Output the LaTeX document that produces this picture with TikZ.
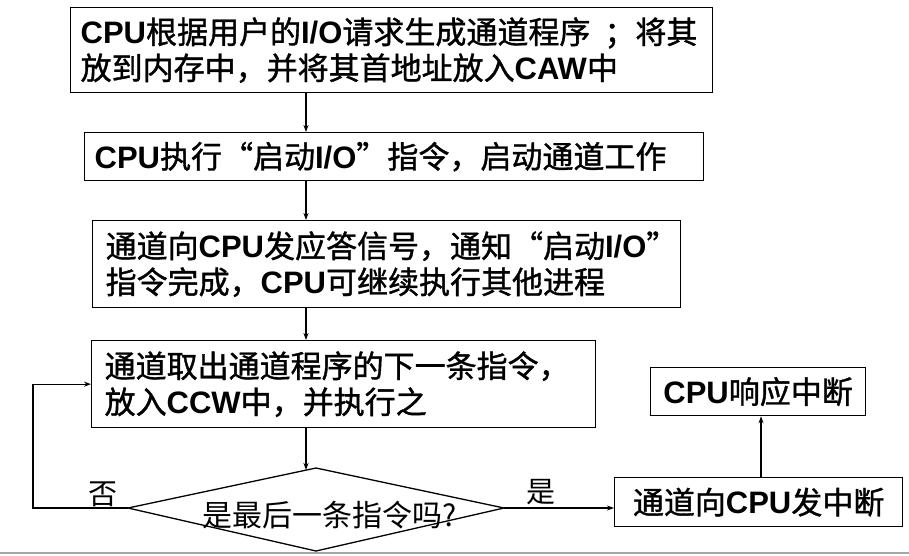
\documentclass[tikz,border=0pt]{standalone}
\usepackage{fontspec}
\setmainfont{Noto Sans CJK SC}[FakeBold=1.2]
\newfontfamily\zhlight{Noto Sans CJK SC}
\newfontfamily\enfont{Liberation Sans}
\usetikzlibrary{arrows.meta}
\newcommand\en[1]{{\enfont\bfseries #1}}
\tikzset{
  box/.style={draw, line width=1.3pt, anchor=north west, align=left, inner ysep=0pt,
    font=\fontsize{31}{36}\selectfont},
  cbox/.style={draw, line width=1.3pt, anchor=north west, align=center, inner ysep=0pt,
    font=\fontsize{31}{36}\selectfont},
  arr/.style={line width=1.1pt, -{Stealth[length=7pt,width=5pt]}},
  lbl/.style={font=\zhlight\fontsize{29}{34}\selectfont, inner sep=0pt}
}
\begin{document}
\begin{tikzpicture}[x=1pt,y=-1pt]
\useasboundingbox (0,0) rectangle (909,555);
\fill[white] (0,0) rectangle (909,555);
\node[box, inner xsep=10pt, text width=622pt, minimum width=642pt, minimum height=85pt] (b1) at (70,7)
  {\en{CPU}根据用户的\en{I/O}请求生成通道程序\hspace{14pt}；将其\\放到内存中，并将其首地址放入\en{CAW}中};
\node[box, inner xsep=10pt, text width=599pt, minimum width=619pt, minimum height=48pt] (b2) at (84,132)
  {\en{CPU}执行“启动\en{I/O}”指令，启动通道工作};
\node[box, inner xsep=13pt, text width=562pt, minimum width=588pt, minimum height=87pt] (b3) at (92,220)
  {通道向\en{CPU}发应答信号，通知“启动\en{I/O}”\\指令完成，\en{CPU}可继续执行其他进程};
\node[box, inner xsep=13pt, text width=478pt, minimum width=504pt, minimum height=87pt] (b4) at (91,340)
  {通道取出通道程序的下一条指令，\\放入\en{CCW}中，并执行之};
\node[cbox, minimum width=288pt, minimum height=49pt] (b5) at (614,477)
  {通道向\en{CPU}发中断};
\node[cbox, minimum width=215pt, minimum height=48pt] (b6) at (650,367)
  {\en{CPU}响应中断};
\coordinate (dl) at (128,508);
\coordinate (dr) at (504,508);
\coordinate (dt) at (316,468);
\coordinate (db) at (316,551);
\draw[line width=1.3pt] (dl) -- (dt) -- (dr) -- (db) -- cycle;
\node[font=\zhlight\fontsize{30}{34}\selectfont, inner sep=0pt] (d) at (330,515) {是最后一条指令吗?};
\coordinate (ax) at (306,0);
\coordinate (lx) at (33,0);
\coordinate (cx) at (761,0);
\draw[arr] (b1.south -| ax) -- (b2.north -| ax);
\draw[arr] (b2.south -| ax) -- (b3.north -| ax);
\draw[arr] (b3.south -| ax) -- (b4.north -| ax);
\draw[arr] (b4.south -| ax) -- (ax |- 0,470);
\draw[arr] (dl) -- (dl -| lx) |- (b4.west);
\draw[arr] (dr) -- (dr -| b5.west);
\draw[arr] (b5.north -| cx) -- (b6.south -| cx);
\node[lbl] (no) at (103,494) {否};
\node[lbl] (yes) at (541,492) {是};
\draw[gray!70, line width=1.5pt] (0,553) -- (909,553);
\end{tikzpicture}
\end{document}
